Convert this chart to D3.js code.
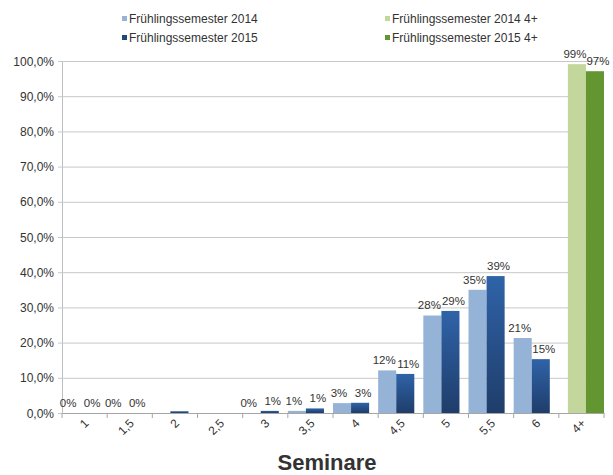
<!DOCTYPE html>
<html>
<head>
<meta charset="utf-8">
<script src="https://cdn.jsdelivr.net/npm/d3@7"></script>
<style>
body { margin: 0; background: #fff; }
text { font-family: "Liberation Sans", Arial, sans-serif; fill: #333; }
</style>
</head>
<body>
<div id="chart"></div>
<script>
// categories on the x axis
var categories = ["1", "1,5", "2", "2,5", "3", "3,5", "4", "4,5", "5", "5,5", "6", "4+"];
// percent values, null = no bar
var fs2014 = [0, 0, null, null, 0, 0.6, 2.8, 12.1, 27.7, 35.0, 21.3, null];
var fs2015 = [0, 0, 0.5, null, 0.6, 1.3, 2.9, 11.1, 29.0, 38.9, 15.3, null];
var fs2014plus = [null, null, null, null, null, null, null, null, null, null, null, 99.1];
var fs2015plus = [null, null, null, null, null, null, null, null, null, null, null, 97.1];
var lab2014 = ["0%", "0%", "", "", "0%", "1%", "3%", "12%", "28%", "35%", "21%", ""];
var lab2015 = ["0%", "0%", "", "", "1%", "1%", "3%", "11%", "29%", "39%", "15%", ""];
var lab2014plus = ["", "", "", "", "", "", "", "", "", "", "", "99%"];
var lab2015plus = ["", "", "", "", "", "", "", "", "", "", "", "97%"];
var yTicks = [0, 10, 20, 30, 40, 50, 60, 70, 80, 90, 100];

var W = 613, H = 475;
var margin = {top: 61, left: 62, right: 9, bottom: 62};
var w = W - margin.left - margin.right;
var h = H - margin.top - margin.bottom;

var svg = d3.select("#chart").append("svg")
    .attr("width", W)
    .attr("height", H);

var defs = svg.append("defs");
var grad = defs.append("linearGradient")
    .attr("id", "darkblue")
    .attr("x1", 0).attr("y1", 0).attr("x2", 0).attr("y2", 1);
grad.append("stop").attr("offset", "0%").attr("stop-color", "#2f63a8");
grad.append("stop").attr("offset", "100%").attr("stop-color", "#1f3d6a");

var g = svg.append("g")
    .attr("transform", "translate(" + margin.left + "," + margin.top + ")");

var x = d3.scaleBand()
    .domain(categories)
    .range([0, w])
    .padding(0);

var y = d3.scaleLinear()
    .domain([0, 100])
    .range([h, 0]);

// y axis with gridlines
var yAxis = d3.axisLeft(y)
    .tickValues(yTicks)
    .tickSize(-w)
    .tickFormat(function (d) { return d.toFixed(1).replace(".", ",") + "%"; });

var gY = g.append("g").call(yAxis);
gY.select(".domain").attr("stroke", "#bfbfbf");
gY.selectAll(".tick line")
    .attr("x1", -4)
    .attr("stroke", "#c8c8c8");
gY.selectAll(".tick text")
    .attr("x", -8)
    .attr("dy", "0.34em")
    .style("font-size", "12px")
    .style("font-family", "Liberation Sans, Arial, sans-serif")
    .attr("fill", "#333");

// series: values, fill, offset in band (fraction), labels, label nudge
var series = [
    {vals: fs2014, fill: "#95b3d7", off: 0.0, labs: lab2014, dx: -3},
    {vals: fs2015, fill: "url(#darkblue)", off: 0.4, labs: lab2015, dx: 3},
    {vals: fs2014plus, fill: "#c3d69b", off: 0.2, labs: lab2014plus, dx: -2},
    {vals: fs2015plus, fill: "#639630", off: 0.6, labs: lab2015plus, dx: 3}
];
var bw = x.bandwidth() * 0.4;

series.forEach(function (s) {
    var rows = categories.map(function (c, i) {
        return {cat: c, v: s.vals[i], lab: s.labs[i]};
    });
    g.selectAll(null)
        .data(rows.filter(function (d) { return d.v !== null && d.v > 0; }))
        .enter().append("rect")
        .attr("x", function (d) { return x(d.cat) + x.bandwidth() * s.off; })
        .attr("y", function (d) { return y(d.v); })
        .attr("width", bw)
        .attr("height", function (d) { return h - y(d.v); })
        .attr("fill", s.fill);
    g.selectAll(null)
        .data(rows.filter(function (d) { return d.lab !== ""; }))
        .enter().append("text")
        .attr("x", function (d) { return x(d.cat) + x.bandwidth() * s.off + bw / 2 + s.dx; })
        .attr("y", function (d) { return y(d.v || 0) - 6; })
        .attr("text-anchor", "middle")
        .style("font-size", "11.5px")
        .text(function (d) { return d.lab; });
});

// x axis
var xAxis = d3.axisBottom(x).tickSize(0).tickFormat("");
var gX = g.append("g")
    .attr("transform", "translate(0," + h + ")")
    .call(xAxis);
gX.select(".domain").attr("stroke", "#a6a6a6");

// tick marks between categories
var bounds = categories.map(function (c) { return x(c); }).concat([w]);
gX.selectAll(".sep")
    .data(bounds)
    .enter().append("line")
    .attr("x1", function (d) { return d; })
    .attr("x2", function (d) { return d; })
    .attr("y1", 0)
    .attr("y2", 5)
    .attr("stroke", "#a6a6a6");

gX.selectAll(".xl")
    .data(categories)
    .enter().append("text")
    .attr("text-anchor", "end")
    .attr("transform", function (d) {
        return "translate(" + (x(d) + x.bandwidth() / 2 + 5) + ",11) rotate(-45)";
    })
    .style("font-size", "12px")
    .text(function (d) { return d; });

// axis title
svg.append("text")
    .attr("x", margin.left + w / 2 - 6)
    .attr("y", 470)
    .attr("text-anchor", "middle")
    .style("font-size", "22px")
    .style("font-weight", "bold")
    .attr("fill", "#000")
    .text("Seminare");

// legend
var legend = [
    {name: "Frühlingssemester 2014", color: "#95b3d7", x: 122, y: 19},
    {name: "Frühlingssemester 2015", color: "#1f497d", x: 122, y: 38},
    {name: "Frühlingssemester 2014 4+", color: "#c3d69b", x: 385, y: 19},
    {name: "Frühlingssemester 2015 4+", color: "#639630", x: 385, y: 38}
];
var lg = svg.selectAll(".lg")
    .data(legend)
    .enter().append("g")
    .attr("transform", function (d) { return "translate(" + d.x + "," + d.y + ")"; });
lg.append("rect")
    .attr("x", 0).attr("y", -3)
    .attr("width", 5).attr("height", 5)
    .attr("fill", function (d) { return d.color; });
lg.append("text")
    .attr("x", 7)
    .attr("y", 4)
    .style("font-size", "12px")
    .text(function (d) { return d.name; });
</script>
</body>
</html>
